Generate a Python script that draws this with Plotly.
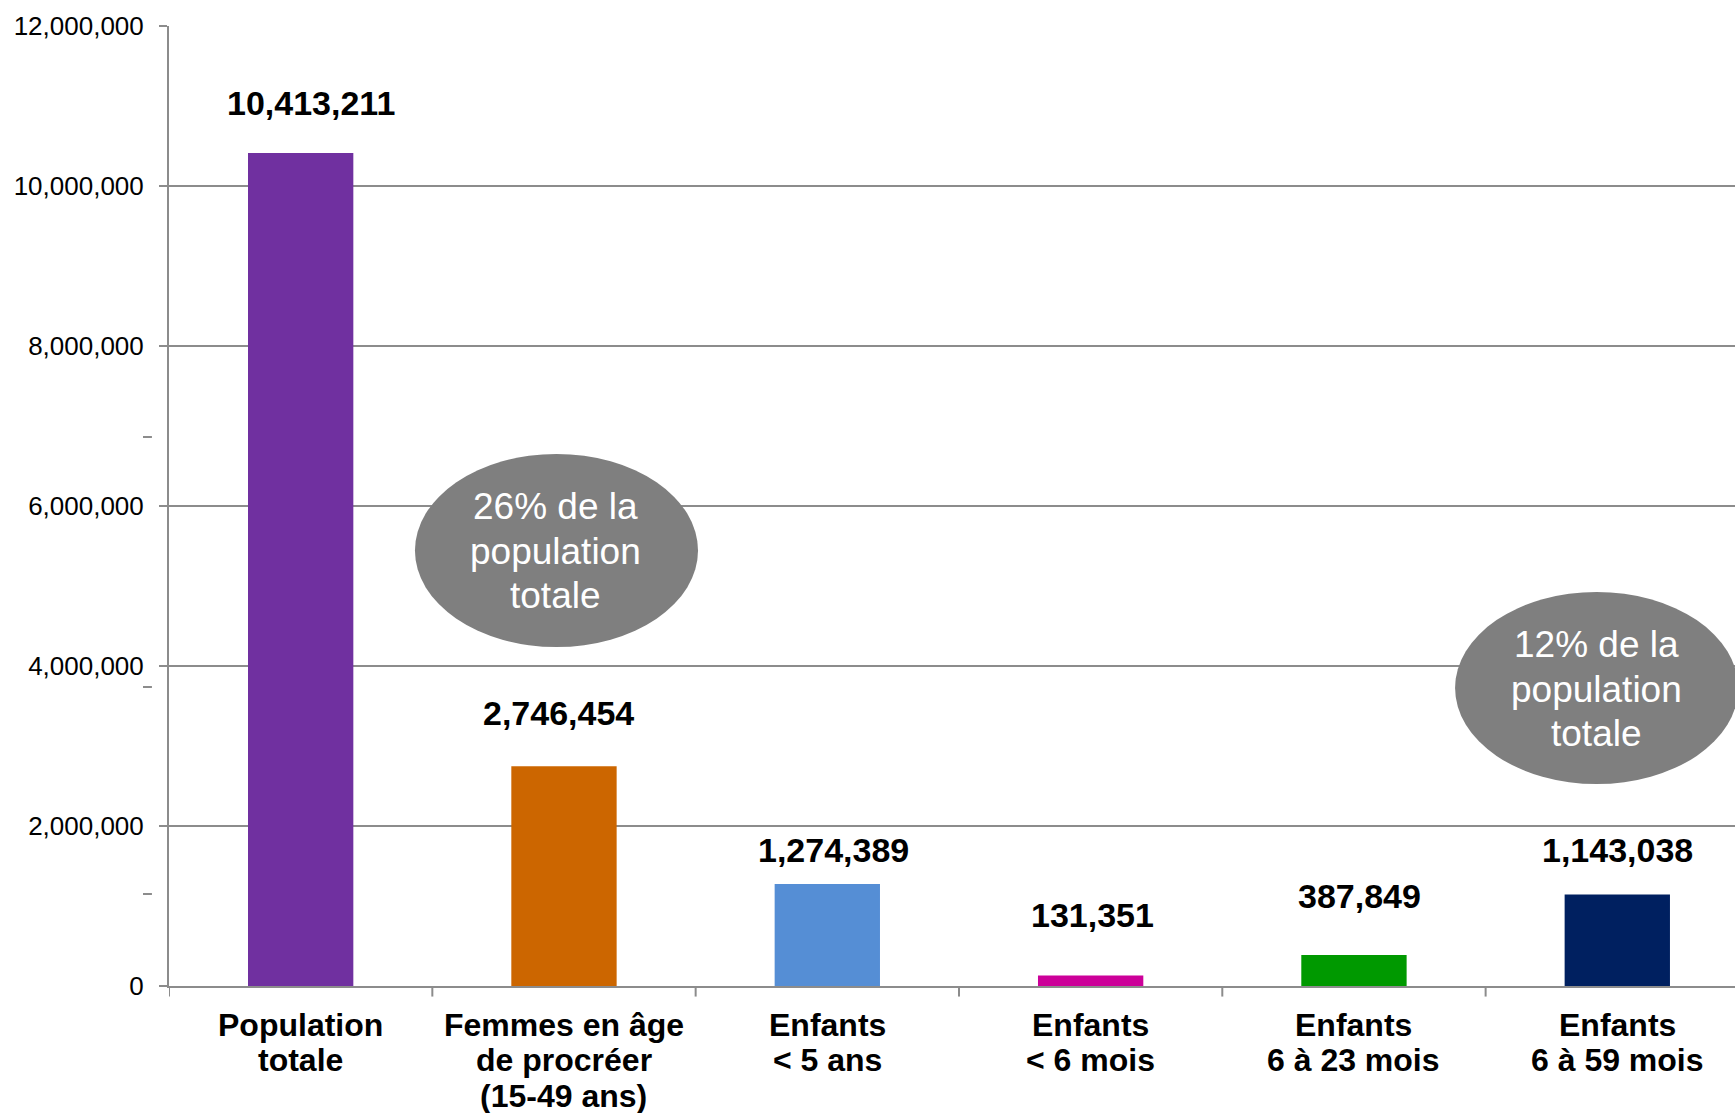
import plotly.graph_objects as go

# Population groups and their counts
categories = [
    "Population<br>totale",
    "Femmes en âge<br>de procréer<br>(15-49 ans)",
    "Enfants<br>< 5 ans",
    "Enfants<br>< 6 mois",
    "Enfants<br>6 à 23 mois",
    "Enfants<br>6 à 59 mois",
]
values = [10413211, 2746454, 1274389, 131351, 387849, 1143038]
bar_colors = ["#7030A0", "#CC6600", "#558ED5", "#CC0099", "#009900", "#002060"]

y_ticks = [0, 2000000, 4000000, 6000000, 8000000, 10000000, 12000000]

callouts = ["26% de la<br>population<br>totale", "12% de la<br>population<br>totale"]

FONT = "Arial, Liberation Sans, Helvetica, sans-serif"
GRID = "#8c8c8c"

# label placement relative to each bar top (pixels)
label_dx = [10, -5, 6, 2, 6, 0]
label_dy = [50, 53, 34, 60, 59, 45]

# vertical placement of category label lines below the axis (pixels)
cat_line_offsets = [-39, -74, -110]
# line spacing inside the callouts (pixels)
callout_line_step = 44.5

x_idx = list(range(len(categories)))

fig = go.Figure(
    go.Bar(
        x=x_idx,
        y=values,
        marker=dict(color=bar_colors, line=dict(width=0)),
        width=0.40,
        hoverinfo="skip",
    )
)

for i, v in enumerate(values):
    fig.add_annotation(
        x=i, y=v, text=f"<b>{v:,}</b>", showarrow=False,
        xshift=label_dx[i], yshift=label_dy[i], yanchor="middle",
        font=dict(family=FONT, size=34, color="black"),
    )

# category labels, one annotation per line for tighter leading
for i, cat in enumerate(categories):
    for k, line in enumerate(cat.split("<br>")):
        fig.add_annotation(
            x=i, xref="x", y=0, yref="paper", text=f"<b>{line}</b>",
            showarrow=False, yanchor="middle", yshift=cat_line_offsets[k],
            font=dict(family=FONT, size=32, color="black"),
        )

# grey callout ellipses
ellipses = [
    dict(x0=0.434, x1=1.509, y0=4237500, y1=6650000, tx=0.968, ty=5437500),
    dict(x0=4.384, x1=5.459, y0=2525000, y1=4925000, tx=4.920, ty=3712500),
]
for e, txt in zip(ellipses, callouts):
    fig.add_shape(
        type="circle", xref="x", yref="y",
        x0=e["x0"], x1=e["x1"], y0=e["y0"], y1=e["y1"],
        fillcolor="#7f7f7f", line=dict(width=0), layer="above",
    )
    lines = txt.split("<br>")
    mid = (len(lines) - 1) / 2
    for k, line in enumerate(lines):
        fig.add_annotation(
            x=e["tx"], y=e["ty"], text=line, showarrow=False,
            font=dict(family=FONT, size=37, color="white"),
            yanchor="middle", yshift=(mid - k) * callout_line_step,
        )

# small stray dashes left of the value axis
for yv in [6862500, 3737500, 1150000]:
    fig.add_shape(
        type="line", xref="paper", yref="y",
        x0=-0.0166, x1=-0.0109, y0=yv, y1=yv,
        line=dict(color=GRID, width=2),
    )

fig.update_layout(
    width=1735, height=1113,
    margin=dict(l=169, r=0, t=26, b=127),
    paper_bgcolor="white", plot_bgcolor="white",
    showlegend=False,
    bargap=0.6,
)

fig.update_xaxes(
    type="linear",
    range=[-0.5, 5.447],
    showticklabels=False,
    showgrid=False,
    showline=True, linecolor=GRID, linewidth=2,
    ticks="", zeroline=False,
    automargin=False,
)

# boundary tick marks between categories
for b in [-0.5, 0.5, 1.5, 2.5, 3.5, 4.5]:
    fig.add_shape(
        type="line", xref="x", yref="paper",
        x0=b, x1=b, y0=0, y1=-0.011,
        line=dict(color=GRID, width=2),
    )

fig.update_yaxes(
    range=[0, 12000000],
    tickmode="array",
    tickvals=y_ticks,
    tickformat=",",
    tickfont=dict(family=FONT, size=26, color="black"),
    showgrid=True, gridcolor=GRID, gridwidth=1.5,
    showline=True, linecolor=GRID, linewidth=2,
    ticks="outside", ticklen=8, tickcolor=GRID, tickwidth=1.5,
    ticklabelstandoff=10,
    zeroline=False,
    automargin=False,
)

fig.write_html("out.html")
